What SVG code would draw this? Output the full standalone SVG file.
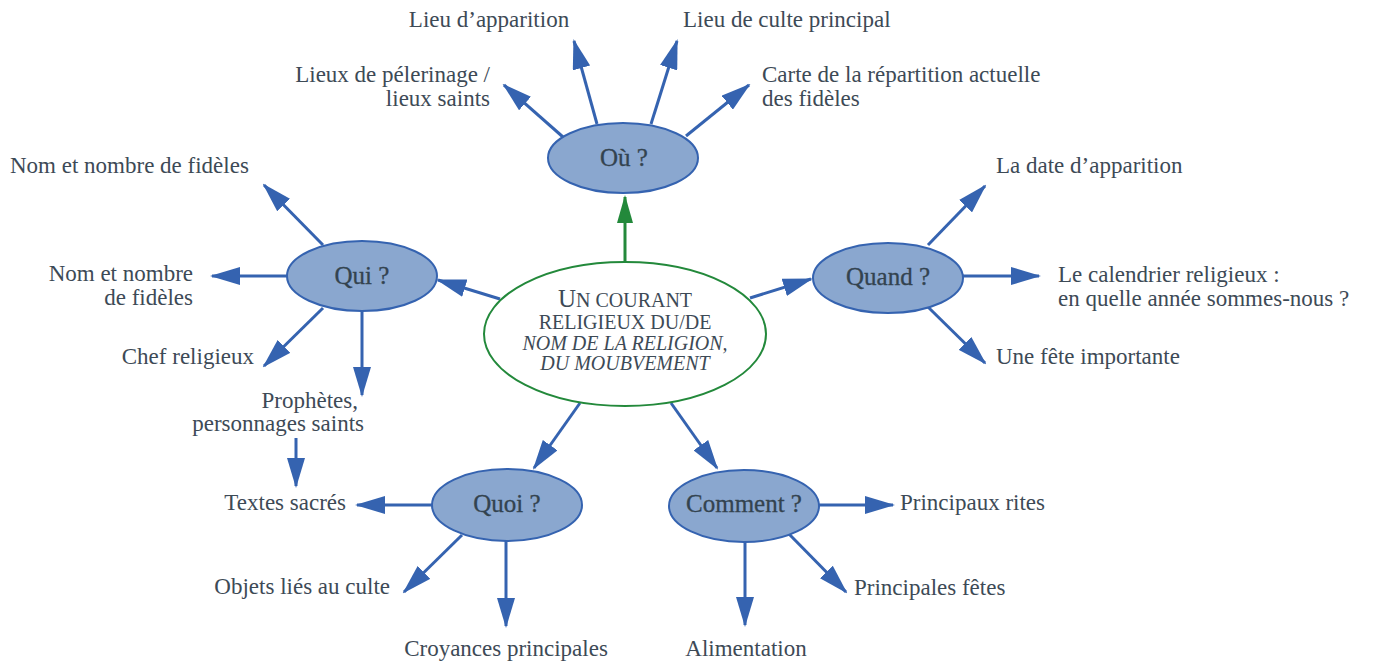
<svg xmlns="http://www.w3.org/2000/svg" width="1373" height="666" viewBox="0 0 1373 666">
<defs>
<style>
text{font-family:'Liberation Serif','DejaVu Serif',serif}
.lbl{font-size:23px;fill:#3d4a56}
.nt{font-size:25px;fill:#33434f;text-anchor:middle;stroke:#33434f;stroke-width:0.3}
.node{fill:#8aa7cf;stroke:#3563b0;stroke-width:2}
.ct{font-size:20px;fill:#3d4a56;text-anchor:middle}
.ar{stroke:#3563b0;stroke-width:3;fill:none;marker-end:url(#ah)}
.gr{stroke:#23893b;stroke-width:3;fill:none;marker-end:url(#ahg)}
.e{text-anchor:end}
</style>
<marker id="ah" markerUnits="userSpaceOnUse" markerWidth="30" markerHeight="18" refX="28" refY="9" orient="auto">
<path d="M0,0 L30,9 L0,18 z" fill="#3563b0"/>
</marker>
<marker id="ahg" markerUnits="userSpaceOnUse" markerWidth="28" markerHeight="16" refX="26" refY="8" orient="auto">
<path d="M0,0 L28,8 L0,16 z" fill="#23893b"/>
</marker>
</defs>
<rect width="1373" height="666" fill="#ffffff"/>
<g id="connectors">
<line class="gr" x1="625" y1="262" x2="625" y2="197"/>
<line class="ar" x1="500" y1="299" x2="438" y2="280"/>
<line class="ar" x1="750" y1="298" x2="811" y2="279"/>
<line class="ar" x1="580" y1="403" x2="534" y2="468"/>
<line class="ar" x1="671" y1="403" x2="717" y2="468"/>
<line class="ar" x1="563" y1="137" x2="504" y2="85"/>
<line class="ar" x1="597" y1="124" x2="574" y2="41"/>
<line class="ar" x1="651" y1="124" x2="677" y2="41"/>
<line class="ar" x1="686" y1="136" x2="749" y2="85"/>
<line class="ar" x1="323" y1="245" x2="264" y2="185"/>
<line class="ar" x1="287" y1="276" x2="212" y2="276"/>
<line class="ar" x1="323" y1="308" x2="264" y2="366"/>
<line class="ar" x1="362" y1="311" x2="362" y2="395"/>
<line class="ar" x1="296" y1="438" x2="296" y2="486"/>
<line class="ar" x1="432" y1="505" x2="357" y2="505"/>
<line class="ar" x1="462" y1="535" x2="404" y2="592"/>
<line class="ar" x1="506" y1="541" x2="506" y2="626"/>
<line class="ar" x1="819" y1="505" x2="893" y2="505"/>
<line class="ar" x1="789" y1="534" x2="846" y2="592"/>
<line class="ar" x1="745" y1="542" x2="745" y2="625"/>
<line class="ar" x1="928" y1="245" x2="985" y2="186"/>
<line class="ar" x1="963" y1="276" x2="1039" y2="276"/>
<line class="ar" x1="928" y1="307" x2="985" y2="363"/>
</g>
<g id="center">
<ellipse cx="625" cy="334" rx="141" ry="72" fill="#ffffff" stroke="#23893b" stroke-width="2"/>
<text class="ct" x="625" y="307"><tspan font-size="25">U</tspan>N COURANT</text>
<text class="ct" x="625" y="329">RELIGIEUX DU/DE</text>
<text class="ct" x="625" y="350" font-style="italic" font-size="19">NOM DE LA RELIGION,</text>
<text class="ct" x="625" y="370" font-style="italic" font-size="19">DU MOUBVEMENT</text>
</g>
<g id="ou">
<ellipse class="node" cx="623" cy="158" rx="75" ry="35"/>
<text class="nt" x="624" y="166">Où ?</text>
</g>
<g id="qui">
<ellipse class="node" cx="362" cy="276" rx="75" ry="35"/>
<text class="nt" x="362" y="284">Qui ?</text>
</g>
<g id="quand">
<ellipse class="node" cx="888" cy="278" rx="75" ry="35"/>
<text class="nt" x="888" y="285">Quand ?</text>
</g>
<g id="quoi">
<ellipse class="node" cx="507" cy="505" rx="75" ry="36"/>
<text class="nt" x="507" y="512">Quoi ?</text>
</g>
<g id="comment">
<ellipse class="node" cx="744" cy="506" rx="75" ry="36"/>
<text class="nt" x="744" y="512">Comment ?</text>
</g>
<g id="labels">
<text class="lbl" x="489" y="27" text-anchor="middle">Lieu d’apparition</text>
<text class="lbl" x="683" y="27">Lieu de culte principal</text>
<text class="lbl e" x="490" y="82">Lieux de pélerinage /</text>
<text class="lbl e" x="490" y="106">lieux saints</text>
<text class="lbl" x="762" y="82">Carte de la répartition actuelle</text>
<text class="lbl" x="762" y="106">des fidèles</text>
<text class="lbl" x="10" y="173">Nom et nombre de fidèles</text>
<text class="lbl e" x="193" y="281">Nom et nombre</text>
<text class="lbl e" x="193" y="305">de fidèles</text>
<text class="lbl e" x="254" y="364">Chef religieux</text>
<text class="lbl e" x="358" y="408">Prophètes,</text>
<text class="lbl e" x="364" y="431">personnages saints</text>
<text class="lbl e" x="346" y="510">Textes sacrés</text>
<text class="lbl e" x="390" y="594">Objets liés au culte</text>
<text class="lbl" x="506" y="656" text-anchor="middle">Croyances principales</text>
<text class="lbl" x="746" y="656" text-anchor="middle">Alimentation</text>
<text class="lbl" x="854" y="595">Principales fêtes</text>
<text class="lbl" x="900" y="510">Principaux rites</text>
<text class="lbl" x="996" y="364">Une fête importante</text>
<text class="lbl" x="1058" y="282">Le calendrier religieux :</text>
<text class="lbl" x="1058" y="306">en quelle année sommes-nous ?</text>
<text class="lbl" x="996" y="173">La date d’apparition</text>
</g>
</svg>
